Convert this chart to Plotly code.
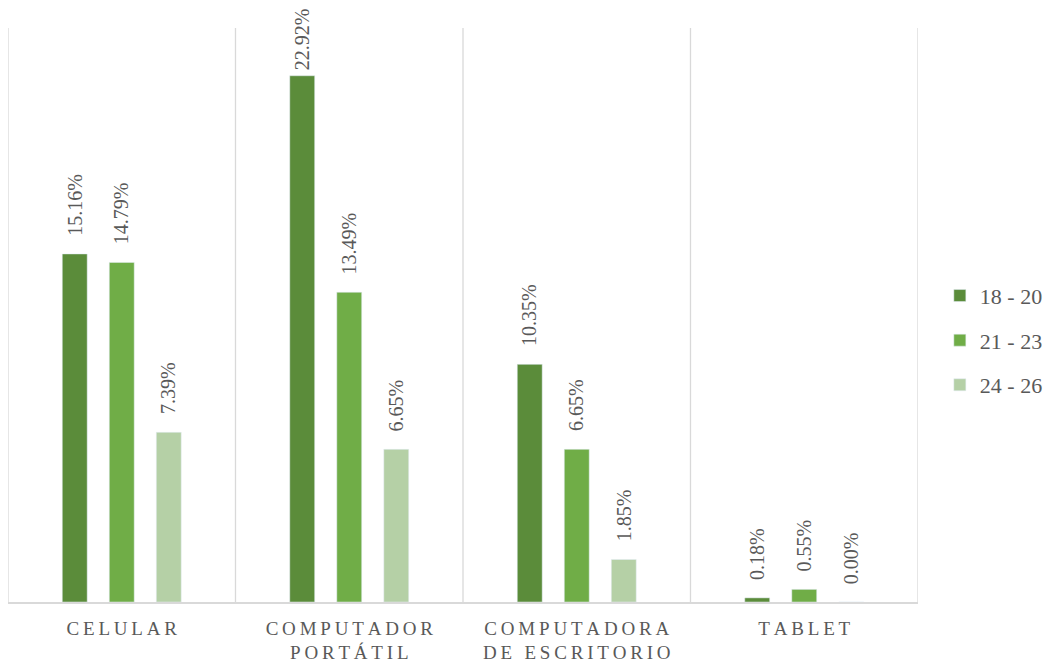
import plotly.graph_objects as go

categories = ["CELULAR", "COMPUTADOR<br>PORTÁTIL", "COMPUTADORA<br>DE ESCRITORIO", "TABLET"]
series_names = ["18 - 20", "21 - 23", "24 - 26"]
values_18_20 = [15.16, 22.92, 10.35, 0.18]
values_21_23 = [14.79, 13.49, 6.65, 0.55]
values_24_26 = [7.39, 6.65, 1.85, 0.00]

colors = ["#5b8c3a", "#70ad47", "#b5d0a6"]
text_color = "#595959"
font_family = "Liberation Serif, Times New Roman, serif"
bargap = 0.38
y_max = 25

W, H = 1047, 662
M_L, M_R, M_T, M_B = 8, 129, 28, 60
plot_h = H - M_T - M_B


def spaced(label):
    # widen the category captions with thin spaces between letters
    lines = label.split("<br>")
    return "<br>".join("\u2009".join(list(line)) for line in lines)


series = [values_18_20, values_21_23, values_24_26]
x_idx = list(range(len(categories)))

fig = go.Figure()
for name, vals, col in zip(series_names, series, colors):
    fig.add_trace(go.Bar(
        x=x_idx, y=vals, name=name, marker_color=col,
        legendgroup=name, hoverinfo="skip",
    ))

# rotated value labels above each bar; pulled closer to the bar when
# the label would otherwise run past the top of the figure
label_len = 62
slot = (1 - bargap) / len(series)
annotations = []
for j, vals in enumerate(series):
    off = (j - (len(series) - 1) / 2) * slot
    for i, v in enumerate(vals):
        bar_top_px = M_T + (y_max - v) * plot_h / y_max
        shift = max(2, min(16, bar_top_px - 10 - label_len))
        annotations.append(dict(
            x=i + off, y=v, xref="x", yref="y", text=f"{v:.2f}%",
            textangle=-90, showarrow=False, xanchor="center", yanchor="bottom",
            yshift=shift, font=dict(family=font_family, size=20, color=text_color),
        ))

# vertical separators between categories
shapes = []
for b in range(len(categories) + 1):
    shapes.append(dict(
        type="line", xref="x", yref="y", x0=b - 0.5, x1=b - 0.5, y0=0, y1=y_max,
        line=dict(color="#d9d9d9", width=1.3), layer="below",
    ))

fig.update_layout(
    width=W, height=H,
    margin=dict(l=M_L, r=M_R, t=M_T, b=M_B, autoexpand=False),
    paper_bgcolor="white", plot_bgcolor="white",
    barmode="group", bargap=bargap, bargroupgap=0.47,
    font=dict(family=font_family, color=text_color),
    showlegend=True,
    legend=dict(
        x=1.024, xref="paper", xanchor="left", y=0.456, yanchor="middle",
        font=dict(family=font_family, size=22, color=text_color),
        tracegroupgap=13, bgcolor="rgba(0,0,0,0)",
    ),
    annotations=annotations,
    shapes=shapes,
)
fig.update_xaxes(
    tickmode="array", tickvals=x_idx, ticktext=[spaced(c) for c in categories],
    range=[-0.5, len(categories) - 0.5],
    tickfont=dict(family=font_family, size=19, color=text_color),
    showgrid=False, showline=True, linecolor="#d9d9d9", linewidth=1.5,
    ticks="", ticklabelstandoff=8, zeroline=False,
)
fig.update_yaxes(
    range=[0, y_max], showgrid=False, showticklabels=False, zeroline=False,
    showline=False,
)

fig.write_html("out.html")
